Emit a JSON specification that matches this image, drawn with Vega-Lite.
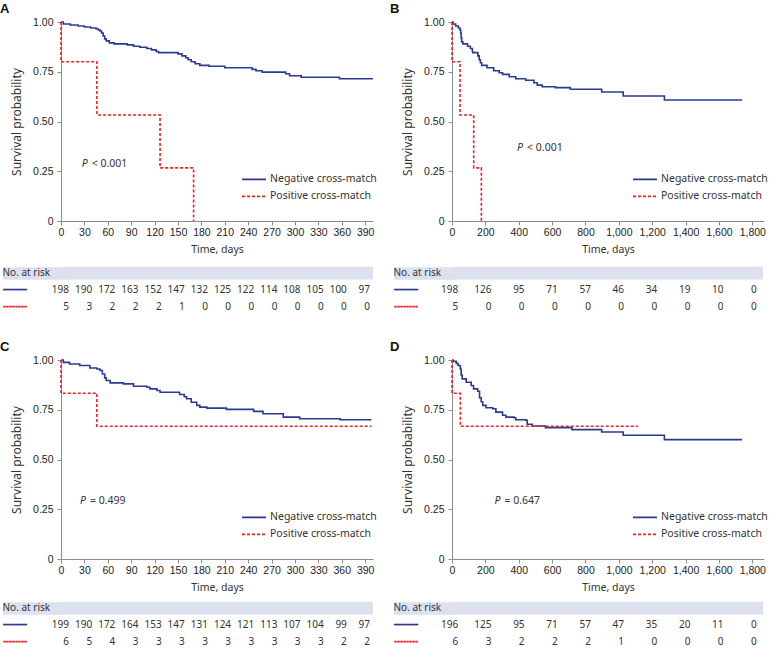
{
"$schema": "https://vega.github.io/schema/vega-lite/v6.json",
"padding": {"left": 0, "top": 3, "right": 0, "bottom": 0},
"background": "white",
"config": {
  "view": {"stroke": null},
  "font": "Noto Sans",
  "axis": {"grid": false, "domainColor": "#8c8c8c", "tickColor": "#8c8c8c", "domainWidth": 1, "tickWidth": 1, "tickSize": 4, "labelFont": "Liberation Sans", "labelFontSize": 10.5, "labelColor": "#222", "titleFont": "Noto Sans", "titleFontWeight": "normal", "titleColor": "#333", "labelOverlap": false, "labelFlush": false},
  "axisX": {"labelPadding": 2, "titlePadding": 7, "titleFontSize": 10.5},
  "axisY": {"labelPadding": 4, "titlePadding": 9, "titleFontSize": 12},
  "legend": {"orient": "none", "title": null, "symbolType": "stroke", "symbolSize": 576, "symbolStrokeWidth": 1.6, "labelFontSize": 10.5, "labelFont": "Noto Sans", "labelColor": "#333", "rowPadding": 2, "clipHeight": 14.7, "labelOffset": 3, "padding": 0},
  "title": {"anchor": "start", "frame": "group", "fontSize": 13, "fontWeight": "bold", "font": "Liberation Sans", "color": "#111", "offset": 1},
  "text": {"font": "Noto Sans", "fontSize": 10.5, "color": "#333"}
},
"datasets": {
  "km": [
    {"p":"A","g":"neg","t":0,"s":1},{"p":"A","g":"neg","t":3,"s":0.99},{"p":"A","g":"neg","t":12,"s":0.985},{"p":"A","g":"neg","t":22,"s":0.98},{"p":"A","g":"neg","t":30,"s":0.975},{"p":"A","g":"neg","t":38,"s":0.97},{"p":"A","g":"neg","t":45,"s":0.965},{"p":"A","g":"neg","t":48,"s":0.96},{"p":"A","g":"neg","t":50,"s":0.955},{"p":"A","g":"neg","t":52,"s":0.945},{"p":"A","g":"neg","t":54,"s":0.93},{"p":"A","g":"neg","t":56,"s":0.915},{"p":"A","g":"neg","t":58,"s":0.905},{"p":"A","g":"neg","t":62,"s":0.895},{"p":"A","g":"neg","t":68,"s":0.89},{"p":"A","g":"neg","t":85,"s":0.885},{"p":"A","g":"neg","t":93,"s":0.878},{"p":"A","g":"neg","t":101,"s":0.873},{"p":"A","g":"neg","t":110,"s":0.867},{"p":"A","g":"neg","t":116,"s":0.86},{"p":"A","g":"neg","t":122,"s":0.852},{"p":"A","g":"neg","t":125,"s":0.846},{"p":"A","g":"neg","t":150,"s":0.84},{"p":"A","g":"neg","t":155,"s":0.83},{"p":"A","g":"neg","t":160,"s":0.82},{"p":"A","g":"neg","t":163,"s":0.81},{"p":"A","g":"neg","t":167,"s":0.8},{"p":"A","g":"neg","t":172,"s":0.79},{"p":"A","g":"neg","t":178,"s":0.782},{"p":"A","g":"neg","t":190,"s":0.778},{"p":"A","g":"neg","t":210,"s":0.77},{"p":"A","g":"neg","t":245,"s":0.762},{"p":"A","g":"neg","t":250,"s":0.755},{"p":"A","g":"neg","t":258,"s":0.748},{"p":"A","g":"neg","t":288,"s":0.74},{"p":"A","g":"neg","t":293,"s":0.73},{"p":"A","g":"neg","t":308,"s":0.722},{"p":"A","g":"neg","t":357,"s":0.715},{"p":"A","g":"neg","t":400,"s":0.715},
    {"p":"A","g":"pos","t":0,"s":1},{"p":"A","g":"pos","t":0,"s":0.8},{"p":"A","g":"pos","t":46,"s":0.533},{"p":"A","g":"pos","t":127,"s":0.267},{"p":"A","g":"pos","t":170,"s":0},
    {"p":"B","g":"neg","t":0,"s":1},{"p":"B","g":"neg","t":6,"s":0.99},{"p":"B","g":"neg","t":22,"s":0.98},{"p":"B","g":"neg","t":38,"s":0.97},{"p":"B","g":"neg","t":48,"s":0.96},{"p":"B","g":"neg","t":52,"s":0.945},{"p":"B","g":"neg","t":55,"s":0.92},{"p":"B","g":"neg","t":58,"s":0.9},{"p":"B","g":"neg","t":65,"s":0.89},{"p":"B","g":"neg","t":93,"s":0.878},{"p":"B","g":"neg","t":110,"s":0.867},{"p":"B","g":"neg","t":122,"s":0.852},{"p":"B","g":"neg","t":125,"s":0.846},{"p":"B","g":"neg","t":155,"s":0.83},{"p":"B","g":"neg","t":163,"s":0.81},{"p":"B","g":"neg","t":170,"s":0.795},{"p":"B","g":"neg","t":178,"s":0.782},{"p":"B","g":"neg","t":210,"s":0.77},{"p":"B","g":"neg","t":250,"s":0.755},{"p":"B","g":"neg","t":283,"s":0.745},{"p":"B","g":"neg","t":303,"s":0.737},{"p":"B","g":"neg","t":343,"s":0.725},{"p":"B","g":"neg","t":382,"s":0.715},{"p":"B","g":"neg","t":442,"s":0.707},{"p":"B","g":"neg","t":491,"s":0.695},{"p":"B","g":"neg","t":511,"s":0.683},{"p":"B","g":"neg","t":541,"s":0.675},{"p":"B","g":"neg","t":620,"s":0.67},{"p":"B","g":"neg","t":709,"s":0.662},{"p":"B","g":"neg","t":897,"s":0.648},{"p":"B","g":"neg","t":1026,"s":0.628},{"p":"B","g":"neg","t":1273,"s":0.608},{"p":"B","g":"neg","t":1739,"s":0.608},
    {"p":"B","g":"pos","t":0,"s":1},{"p":"B","g":"pos","t":0,"s":0.8},{"p":"B","g":"pos","t":48,"s":0.533},{"p":"B","g":"pos","t":130,"s":0.267},{"p":"B","g":"pos","t":176,"s":0},
    {"p":"C","g":"neg","t":0,"s":1},{"p":"C","g":"neg","t":3,"s":0.988},{"p":"C","g":"neg","t":11,"s":0.98},{"p":"C","g":"neg","t":24,"s":0.972},{"p":"C","g":"neg","t":37,"s":0.96},{"p":"C","g":"neg","t":46,"s":0.955},{"p":"C","g":"neg","t":50,"s":0.947},{"p":"C","g":"neg","t":53,"s":0.93},{"p":"C","g":"neg","t":56,"s":0.91},{"p":"C","g":"neg","t":58,"s":0.897},{"p":"C","g":"neg","t":63,"s":0.885},{"p":"C","g":"neg","t":80,"s":0.88},{"p":"C","g":"neg","t":93,"s":0.868},{"p":"C","g":"neg","t":110,"s":0.863},{"p":"C","g":"neg","t":114,"s":0.855},{"p":"C","g":"neg","t":123,"s":0.847},{"p":"C","g":"neg","t":127,"s":0.838},{"p":"C","g":"neg","t":152,"s":0.827},{"p":"C","g":"neg","t":158,"s":0.815},{"p":"C","g":"neg","t":161,"s":0.805},{"p":"C","g":"neg","t":167,"s":0.788},{"p":"C","g":"neg","t":174,"s":0.772},{"p":"C","g":"neg","t":178,"s":0.763},{"p":"C","g":"neg","t":187,"s":0.758},{"p":"C","g":"neg","t":212,"s":0.752},{"p":"C","g":"neg","t":247,"s":0.742},{"p":"C","g":"neg","t":259,"s":0.73},{"p":"C","g":"neg","t":285,"s":0.713},{"p":"C","g":"neg","t":306,"s":0.705},{"p":"C","g":"neg","t":358,"s":0.7},{"p":"C","g":"neg","t":398,"s":0.7},
    {"p":"C","g":"pos","t":0,"s":1},{"p":"C","g":"pos","t":0,"s":0.833},{"p":"C","g":"pos","t":46,"s":0.667},{"p":"C","g":"pos","t":398,"s":0.667},
    {"p":"D","g":"neg","t":0,"s":1},{"p":"D","g":"neg","t":6,"s":0.993},{"p":"D","g":"neg","t":26,"s":0.983},{"p":"D","g":"neg","t":36,"s":0.972},{"p":"D","g":"neg","t":50,"s":0.955},{"p":"D","g":"neg","t":55,"s":0.925},{"p":"D","g":"neg","t":61,"s":0.905},{"p":"D","g":"neg","t":85,"s":0.888},{"p":"D","g":"neg","t":115,"s":0.872},{"p":"D","g":"neg","t":129,"s":0.855},{"p":"D","g":"neg","t":154,"s":0.843},{"p":"D","g":"neg","t":165,"s":0.81},{"p":"D","g":"neg","t":175,"s":0.79},{"p":"D","g":"neg","t":184,"s":0.772},{"p":"D","g":"neg","t":204,"s":0.76},{"p":"D","g":"neg","t":244,"s":0.755},{"p":"D","g":"neg","t":263,"s":0.738},{"p":"D","g":"neg","t":303,"s":0.722},{"p":"D","g":"neg","t":323,"s":0.713},{"p":"D","g":"neg","t":372,"s":0.71},{"p":"D","g":"neg","t":382,"s":0.7},{"p":"D","g":"neg","t":442,"s":0.697},{"p":"D","g":"neg","t":451,"s":0.677},{"p":"D","g":"neg","t":481,"s":0.668},{"p":"D","g":"neg","t":560,"s":0.66},{"p":"D","g":"neg","t":719,"s":0.65},{"p":"D","g":"neg","t":897,"s":0.638},{"p":"D","g":"neg","t":1026,"s":0.622},{"p":"D","g":"neg","t":1273,"s":0.6},{"p":"D","g":"neg","t":1739,"s":0.6},
    {"p":"D","g":"pos","t":0,"s":1},{"p":"D","g":"pos","t":0,"s":0.833},{"p":"D","g":"pos","t":50,"s":0.667},{"p":"D","g":"pos","t":1115,"s":0.667}
  ],
  "risk": [
    {"p":"A","g":"neg","t":0,"n":198},{"p":"A","g":"neg","t":30,"n":190},{"p":"A","g":"neg","t":60,"n":172},{"p":"A","g":"neg","t":90,"n":163},{"p":"A","g":"neg","t":120,"n":152},{"p":"A","g":"neg","t":150,"n":147},{"p":"A","g":"neg","t":180,"n":132},{"p":"A","g":"neg","t":210,"n":125},{"p":"A","g":"neg","t":240,"n":122},{"p":"A","g":"neg","t":270,"n":114},{"p":"A","g":"neg","t":300,"n":108},{"p":"A","g":"neg","t":330,"n":105},{"p":"A","g":"neg","t":360,"n":100},{"p":"A","g":"neg","t":390,"n":97},
    {"p":"A","g":"pos","t":0,"n":5},{"p":"A","g":"pos","t":30,"n":3},{"p":"A","g":"pos","t":60,"n":2},{"p":"A","g":"pos","t":90,"n":2},{"p":"A","g":"pos","t":120,"n":2},{"p":"A","g":"pos","t":150,"n":1},{"p":"A","g":"pos","t":180,"n":0},{"p":"A","g":"pos","t":210,"n":0},{"p":"A","g":"pos","t":240,"n":0},{"p":"A","g":"pos","t":270,"n":0},{"p":"A","g":"pos","t":300,"n":0},{"p":"A","g":"pos","t":330,"n":0},{"p":"A","g":"pos","t":360,"n":0},{"p":"A","g":"pos","t":390,"n":0},
    {"p":"B","g":"neg","t":0,"n":198},{"p":"B","g":"neg","t":200,"n":126},{"p":"B","g":"neg","t":400,"n":95},{"p":"B","g":"neg","t":600,"n":71},{"p":"B","g":"neg","t":800,"n":57},{"p":"B","g":"neg","t":1000,"n":46},{"p":"B","g":"neg","t":1200,"n":34},{"p":"B","g":"neg","t":1400,"n":19},{"p":"B","g":"neg","t":1600,"n":10},{"p":"B","g":"neg","t":1800,"n":0},
    {"p":"B","g":"pos","t":0,"n":5},{"p":"B","g":"pos","t":200,"n":0},{"p":"B","g":"pos","t":400,"n":0},{"p":"B","g":"pos","t":600,"n":0},{"p":"B","g":"pos","t":800,"n":0},{"p":"B","g":"pos","t":1000,"n":0},{"p":"B","g":"pos","t":1200,"n":0},{"p":"B","g":"pos","t":1400,"n":0},{"p":"B","g":"pos","t":1600,"n":0},{"p":"B","g":"pos","t":1800,"n":0},
    {"p":"C","g":"neg","t":0,"n":199},{"p":"C","g":"neg","t":30,"n":190},{"p":"C","g":"neg","t":60,"n":172},{"p":"C","g":"neg","t":90,"n":164},{"p":"C","g":"neg","t":120,"n":153},{"p":"C","g":"neg","t":150,"n":147},{"p":"C","g":"neg","t":180,"n":131},{"p":"C","g":"neg","t":210,"n":124},{"p":"C","g":"neg","t":240,"n":121},{"p":"C","g":"neg","t":270,"n":113},{"p":"C","g":"neg","t":300,"n":107},{"p":"C","g":"neg","t":330,"n":104},{"p":"C","g":"neg","t":360,"n":99},{"p":"C","g":"neg","t":390,"n":97},
    {"p":"C","g":"pos","t":0,"n":6},{"p":"C","g":"pos","t":30,"n":5},{"p":"C","g":"pos","t":60,"n":4},{"p":"C","g":"pos","t":90,"n":3},{"p":"C","g":"pos","t":120,"n":3},{"p":"C","g":"pos","t":150,"n":3},{"p":"C","g":"pos","t":180,"n":3},{"p":"C","g":"pos","t":210,"n":3},{"p":"C","g":"pos","t":240,"n":3},{"p":"C","g":"pos","t":270,"n":3},{"p":"C","g":"pos","t":300,"n":3},{"p":"C","g":"pos","t":330,"n":3},{"p":"C","g":"pos","t":360,"n":2},{"p":"C","g":"pos","t":390,"n":2},
    {"p":"D","g":"neg","t":0,"n":196},{"p":"D","g":"neg","t":200,"n":125},{"p":"D","g":"neg","t":400,"n":95},{"p":"D","g":"neg","t":600,"n":71},{"p":"D","g":"neg","t":800,"n":57},{"p":"D","g":"neg","t":1000,"n":47},{"p":"D","g":"neg","t":1200,"n":35},{"p":"D","g":"neg","t":1400,"n":20},{"p":"D","g":"neg","t":1600,"n":11},{"p":"D","g":"neg","t":1800,"n":0},
    {"p":"D","g":"pos","t":0,"n":6},{"p":"D","g":"pos","t":200,"n":3},{"p":"D","g":"pos","t":400,"n":2},{"p":"D","g":"pos","t":600,"n":2},{"p":"D","g":"pos","t":800,"n":2},{"p":"D","g":"pos","t":1000,"n":1},{"p":"D","g":"pos","t":1200,"n":0},{"p":"D","g":"pos","t":1400,"n":0},{"p":"D","g":"pos","t":1600,"n":0},{"p":"D","g":"pos","t":1800,"n":0}
  ]
},
"spacing": 26,
"resolve": {"scale": {"color": "independent", "strokeDash": "independent"}},
"vconcat": [
 {"spacing": 9, "resolve": {"scale": {"color": "independent", "strokeDash": "independent"}},
  "vconcat": [
   {"spacing": 13, "resolve": {"scale": {"color": "independent", "strokeDash": "independent"}},
    "hconcat": [
     {"width": 312, "height": 199, "title": {"text": "A", "dx": -61},
      "layer": [
       {"data": {"name": "km"}, "transform": [{"filter": "datum.p == 'A'"}],
        "mark": {"type": "line", "interpolate": "step-after", "strokeWidth": 1.6},
        "encoding": {
         "x": {"field": "t", "type": "quantitative", "scale": {"domain": [0, 400], "nice": false, "zero": false}, "axis": {"values": [0,30,60,90,120,150,180,210,240,270,300,330,360,390], "format": "d", "labelOverlap": false, "title": "Time, days"}},
         "y": {"field": "s", "type": "quantitative", "scale": {"domain": [0, 1], "nice": false}, "axis": {"values": [0,0.25,0.5,0.75,1], "labelExpr": "datum.value == 0 ? '0' : format(datum.value, '.2f')", "title": "Survival probability"}},
         "color": {"field": "g", "type": "nominal", "scale": {"domain": ["neg","pos"], "range": ["#2b3990","#ea2127"]}, "legend": {"legendX": 180, "legendY": 150, "labelExpr": "datum.value == 'neg' ? 'Negative cross-match' : 'Positive cross-match'"}},
         "strokeDash": {"field": "g", "type": "nominal", "scale": {"domain": ["neg","pos"], "range": [[1,0],[3,2]]}, "legend": {"legendX": 180, "legendY": 150, "labelExpr": "datum.value == 'neg' ? 'Negative cross-match' : 'Positive cross-match'"}}
        }},
       {"data": {"values": [{}]}, "mark": {"type": "text", "align": "left", "fontStyle": "italic"},
        "encoding": {"x": {"datum": 26.5, "type": "quantitative", "axis": {"values": [0,30,60,90,120,150,180,210,240,270,300,330,360,390], "format": "d", "labelOverlap": false, "title": "Time, days"}}, "y": {"datum": 0.285, "type": "quantitative", "axis": {"values": [0,0.25,0.5,0.75,1], "labelExpr": "datum.value == 0 ? '0' : format(datum.value, '.2f')", "title": "Survival probability"}}, "text": {"value": "P"}}},
       {"data": {"values": [{}]}, "mark": {"type": "text", "align": "left", "dx": 10},
        "encoding": {"x": {"datum": 26.5, "type": "quantitative", "axis": {"values": [0,30,60,90,120,150,180,210,240,270,300,330,360,390], "format": "d", "labelOverlap": false, "title": "Time, days"}}, "y": {"datum": 0.285, "type": "quantitative", "axis": {"values": [0,0.25,0.5,0.75,1], "labelExpr": "datum.value == 0 ? '0' : format(datum.value, '.2f')", "title": "Survival probability"}}, "text": {"value": "< 0.001"}}}
      ]},
     {"width": 312, "height": 199, "title": {"text": "B", "dx": -62},
      "layer": [
       {"data": {"name": "km"}, "transform": [{"filter": "datum.p == 'B'"}],
        "mark": {"type": "line", "interpolate": "step-after", "strokeWidth": 1.6},
        "encoding": {
         "x": {"field": "t", "type": "quantitative", "scale": {"domain": [0, 1870], "nice": false, "zero": false}, "axis": {"values": [0,200,400,600,800,1000,1200,1400,1600,1800], "format": ",d", "labelOverlap": false, "title": "Time, days"}},
         "y": {"field": "s", "type": "quantitative", "scale": {"domain": [0, 1], "nice": false}, "axis": {"values": [0,0.25,0.5,0.75,1], "labelExpr": "datum.value == 0 ? '0' : format(datum.value, '.2f')", "title": "Survival probability"}},
         "color": {"field": "g", "type": "nominal", "scale": {"domain": ["neg","pos"], "range": ["#2b3990","#ea2127"]}, "legend": {"legendX": 180, "legendY": 150, "labelExpr": "datum.value == 'neg' ? 'Negative cross-match' : 'Positive cross-match'"}},
         "strokeDash": {"field": "g", "type": "nominal", "scale": {"domain": ["neg","pos"], "range": [[1,0],[3,2]]}, "legend": {"legendX": 180, "legendY": 150, "labelExpr": "datum.value == 'neg' ? 'Negative cross-match' : 'Positive cross-match'"}}
        }},
       {"data": {"values": [{}]}, "mark": {"type": "text", "align": "left", "fontStyle": "italic"},
        "encoding": {"x": {"datum": 390, "type": "quantitative", "axis": {"values": [0,200,400,600,800,1000,1200,1400,1600,1800], "format": ",d", "labelOverlap": false, "title": "Time, days"}}, "y": {"datum": 0.367, "type": "quantitative", "axis": {"values": [0,0.25,0.5,0.75,1], "labelExpr": "datum.value == 0 ? '0' : format(datum.value, '.2f')", "title": "Survival probability"}}, "text": {"value": "P"}}},
       {"data": {"values": [{}]}, "mark": {"type": "text", "align": "left", "dx": 10},
        "encoding": {"x": {"datum": 390, "type": "quantitative", "axis": {"values": [0,200,400,600,800,1000,1200,1400,1600,1800], "format": ",d", "labelOverlap": false, "title": "Time, days"}}, "y": {"datum": 0.367, "type": "quantitative", "axis": {"values": [0,0.25,0.5,0.75,1], "labelExpr": "datum.value == 0 ? '0' : format(datum.value, '.2f')", "title": "Survival probability"}}, "text": {"value": "< 0.001"}}}
      ]}
    ]},
   {"spacing": 18, "resolve": {"scale": {"color": "independent", "strokeDash": "independent"}},
    "hconcat": [
     {"width": 312, "height": 50,
      "layer": [
       {"data": {"values": [{"g": "hdr"}]}, "mark": {"type": "rect", "color": "#dde0ef"},
        "encoding": {"y": {"field": "g", "type": "nominal", "scale": {"domain": ["hdr","neg","pos"], "paddingInner": 0.25, "paddingOuter": 0.1},
          "axis": {"title": null, "domain": false, "ticks": true, "tickSize": 52, "tickWidth": {"condition": {"test": "datum.value == 'hdr'", "value": 12.7}, "value": 0}, "tickCap": "square", "tickBand": "center", "tickColor": {"condition": {"test": "datum.value == 'hdr'", "value": "#dde0ef"}, "value": "transparent"}, "labelAlign": "left", "labelPadding": 7, "labelFontSize": 10, "labelFont": "Noto Sans", "zindex": 1,
            "labelExpr": "datum.value == 'hdr' ? 'No. at risk' : datum.value == 'neg' ? '━━━━' : '╍╍╍╍'",
            "labelColor": {"condition": [{"test": "datum.value == 'neg'", "value": "#2b3990"}, {"test": "datum.value == 'pos'", "value": "#ea2127"}], "value": "#333"}}}}},
       {"data": {"name": "risk"}, "transform": [{"filter": "datum.p == 'A'"}],
        "mark": {"type": "text", "align": "right", "fontSize": 10},
        "encoding": {"x": {"field": "t", "type": "quantitative", "scale": {"domain": [-10.4, 393.9], "nice": false, "zero": false}, "axis": null},
          "y": {"field": "g", "type": "nominal"}, "text": {"field": "n", "type": "quantitative"}}}
      ]},
     {"width": 312, "height": 50,
      "layer": [
       {"data": {"values": [{"g": "hdr"}]}, "mark": {"type": "rect", "color": "#dde0ef"},
        "encoding": {"y": {"field": "g", "type": "nominal", "scale": {"domain": ["hdr","neg","pos"], "paddingInner": 0.25, "paddingOuter": 0.1},
          "axis": {"title": null, "domain": false, "ticks": true, "tickSize": 51, "tickWidth": {"condition": {"test": "datum.value == 'hdr'", "value": 12.7}, "value": 0}, "tickCap": "square", "tickBand": "center", "tickColor": {"condition": {"test": "datum.value == 'hdr'", "value": "#dde0ef"}, "value": "transparent"}, "labelAlign": "left", "labelPadding": 7, "labelFontSize": 10, "labelFont": "Noto Sans", "zindex": 1,
            "labelExpr": "datum.value == 'hdr' ? 'No. at risk' : datum.value == 'neg' ? '━━━━' : '╍╍╍╍'",
            "labelColor": {"condition": [{"test": "datum.value == 'neg'", "value": "#2b3990"}, {"test": "datum.value == 'pos'", "value": "#ea2127"}], "value": "#333"}}}}},
       {"data": {"name": "risk"}, "transform": [{"filter": "datum.p == 'B'"}],
        "mark": {"type": "text", "align": "right", "fontSize": 10},
        "encoding": {"x": {"field": "t", "type": "quantitative", "scale": {"domain": [-44, 1838], "nice": false, "zero": false}, "axis": null},
          "y": {"field": "g", "type": "nominal"}, "text": {"field": "n", "type": "quantitative"}}}
      ]}
    ]}
  ]},
 {"spacing": 6, "resolve": {"scale": {"color": "independent", "strokeDash": "independent"}},
  "vconcat": [
   {"spacing": 13, "resolve": {"scale": {"color": "independent", "strokeDash": "independent"}},
    "hconcat": [
     {"width": 312, "height": 199, "title": {"text": "C", "dx": -61},
      "layer": [
       {"data": {"name": "km"}, "transform": [{"filter": "datum.p == 'C'"}],
        "mark": {"type": "line", "interpolate": "step-after", "strokeWidth": 1.6},
        "encoding": {
         "x": {"field": "t", "type": "quantitative", "scale": {"domain": [0, 400], "nice": false, "zero": false}, "axis": {"values": [0,30,60,90,120,150,180,210,240,270,300,330,360,390], "format": "d", "labelOverlap": false, "title": "Time, days"}},
         "y": {"field": "s", "type": "quantitative", "scale": {"domain": [0, 1], "nice": false}, "axis": {"values": [0,0.25,0.5,0.75,1], "labelExpr": "datum.value == 0 ? '0' : format(datum.value, '.2f')", "title": "Survival probability"}},
         "color": {"field": "g", "type": "nominal", "scale": {"domain": ["neg","pos"], "range": ["#2b3990","#ea2127"]}, "legend": {"legendX": 180, "legendY": 150, "labelExpr": "datum.value == 'neg' ? 'Negative cross-match' : 'Positive cross-match'"}},
         "strokeDash": {"field": "g", "type": "nominal", "scale": {"domain": ["neg","pos"], "range": [[1,0],[3,2]]}, "legend": {"legendX": 180, "legendY": 150, "labelExpr": "datum.value == 'neg' ? 'Negative cross-match' : 'Positive cross-match'"}}
        }},
       {"data": {"values": [{}]}, "mark": {"type": "text", "align": "left", "fontStyle": "italic"},
        "encoding": {"x": {"datum": 24.4, "type": "quantitative", "axis": {"values": [0,30,60,90,120,150,180,210,240,270,300,330,360,390], "format": "d", "labelOverlap": false, "title": "Time, days"}}, "y": {"datum": 0.29, "type": "quantitative", "axis": {"values": [0,0.25,0.5,0.75,1], "labelExpr": "datum.value == 0 ? '0' : format(datum.value, '.2f')", "title": "Survival probability"}}, "text": {"value": "P"}}},
       {"data": {"values": [{}]}, "mark": {"type": "text", "align": "left", "dx": 10},
        "encoding": {"x": {"datum": 24.4, "type": "quantitative", "axis": {"values": [0,30,60,90,120,150,180,210,240,270,300,330,360,390], "format": "d", "labelOverlap": false, "title": "Time, days"}}, "y": {"datum": 0.29, "type": "quantitative", "axis": {"values": [0,0.25,0.5,0.75,1], "labelExpr": "datum.value == 0 ? '0' : format(datum.value, '.2f')", "title": "Survival probability"}}, "text": {"value": "= 0.499"}}}
      ]},
     {"width": 312, "height": 199, "title": {"text": "D", "dx": -62},
      "layer": [
       {"data": {"name": "km"}, "transform": [{"filter": "datum.p == 'D'"}],
        "mark": {"type": "line", "interpolate": "step-after", "strokeWidth": 1.6},
        "encoding": {
         "x": {"field": "t", "type": "quantitative", "scale": {"domain": [0, 1870], "nice": false, "zero": false}, "axis": {"values": [0,200,400,600,800,1000,1200,1400,1600,1800], "format": ",d", "labelOverlap": false, "title": "Time, days"}},
         "y": {"field": "s", "type": "quantitative", "scale": {"domain": [0, 1], "nice": false}, "axis": {"values": [0,0.25,0.5,0.75,1], "labelExpr": "datum.value == 0 ? '0' : format(datum.value, '.2f')", "title": "Survival probability"}},
         "color": {"field": "g", "type": "nominal", "scale": {"domain": ["neg","pos"], "range": ["#2b3990","#ea2127"]}, "legend": {"legendX": 180, "legendY": 150, "labelExpr": "datum.value == 'neg' ? 'Negative cross-match' : 'Positive cross-match'"}},
         "strokeDash": {"field": "g", "type": "nominal", "scale": {"domain": ["neg","pos"], "range": [[1,0],[3,2]]}, "legend": {"legendX": 180, "legendY": 150, "labelExpr": "datum.value == 'neg' ? 'Negative cross-match' : 'Positive cross-match'"}}
        }},
       {"data": {"values": [{}]}, "mark": {"type": "text", "align": "left", "fontStyle": "italic"},
        "encoding": {"x": {"datum": 255, "type": "quantitative", "axis": {"values": [0,200,400,600,800,1000,1200,1400,1600,1800], "format": ",d", "labelOverlap": false, "title": "Time, days"}}, "y": {"datum": 0.29, "type": "quantitative", "axis": {"values": [0,0.25,0.5,0.75,1], "labelExpr": "datum.value == 0 ? '0' : format(datum.value, '.2f')", "title": "Survival probability"}}, "text": {"value": "P"}}},
       {"data": {"values": [{}]}, "mark": {"type": "text", "align": "left", "dx": 10},
        "encoding": {"x": {"datum": 255, "type": "quantitative", "axis": {"values": [0,200,400,600,800,1000,1200,1400,1600,1800], "format": ",d", "labelOverlap": false, "title": "Time, days"}}, "y": {"datum": 0.29, "type": "quantitative", "axis": {"values": [0,0.25,0.5,0.75,1], "labelExpr": "datum.value == 0 ? '0' : format(datum.value, '.2f')", "title": "Survival probability"}}, "text": {"value": "= 0.647"}}}
      ]}
    ]},
   {"spacing": 18, "resolve": {"scale": {"color": "independent", "strokeDash": "independent"}},
    "hconcat": [
     {"width": 312, "height": 50,
      "layer": [
       {"data": {"values": [{"g": "hdr"}]}, "mark": {"type": "rect", "color": "#dde0ef"},
        "encoding": {"y": {"field": "g", "type": "nominal", "scale": {"domain": ["hdr","neg","pos"], "paddingInner": 0.25, "paddingOuter": 0.1},
          "axis": {"title": null, "domain": false, "ticks": true, "tickSize": 52, "tickWidth": {"condition": {"test": "datum.value == 'hdr'", "value": 12.7}, "value": 0}, "tickCap": "square", "tickBand": "center", "tickColor": {"condition": {"test": "datum.value == 'hdr'", "value": "#dde0ef"}, "value": "transparent"}, "labelAlign": "left", "labelPadding": 7, "labelFontSize": 10, "labelFont": "Noto Sans", "zindex": 1,
            "labelExpr": "datum.value == 'hdr' ? 'No. at risk' : datum.value == 'neg' ? '━━━━' : '╍╍╍╍'",
            "labelColor": {"condition": [{"test": "datum.value == 'neg'", "value": "#2b3990"}, {"test": "datum.value == 'pos'", "value": "#ea2127"}], "value": "#333"}}}}},
       {"data": {"name": "risk"}, "transform": [{"filter": "datum.p == 'C'"}],
        "mark": {"type": "text", "align": "right", "fontSize": 10},
        "encoding": {"x": {"field": "t", "type": "quantitative", "scale": {"domain": [-10.4, 393.9], "nice": false, "zero": false}, "axis": null},
          "y": {"field": "g", "type": "nominal"}, "text": {"field": "n", "type": "quantitative"}}}
      ]},
     {"width": 312, "height": 50,
      "layer": [
       {"data": {"values": [{"g": "hdr"}]}, "mark": {"type": "rect", "color": "#dde0ef"},
        "encoding": {"y": {"field": "g", "type": "nominal", "scale": {"domain": ["hdr","neg","pos"], "paddingInner": 0.25, "paddingOuter": 0.1},
          "axis": {"title": null, "domain": false, "ticks": true, "tickSize": 51, "tickWidth": {"condition": {"test": "datum.value == 'hdr'", "value": 12.7}, "value": 0}, "tickCap": "square", "tickBand": "center", "tickColor": {"condition": {"test": "datum.value == 'hdr'", "value": "#dde0ef"}, "value": "transparent"}, "labelAlign": "left", "labelPadding": 7, "labelFontSize": 10, "labelFont": "Noto Sans", "zindex": 1,
            "labelExpr": "datum.value == 'hdr' ? 'No. at risk' : datum.value == 'neg' ? '━━━━' : '╍╍╍╍'",
            "labelColor": {"condition": [{"test": "datum.value == 'neg'", "value": "#2b3990"}, {"test": "datum.value == 'pos'", "value": "#ea2127"}], "value": "#333"}}}}},
       {"data": {"name": "risk"}, "transform": [{"filter": "datum.p == 'D'"}],
        "mark": {"type": "text", "align": "right", "fontSize": 10},
        "encoding": {"x": {"field": "t", "type": "quantitative", "scale": {"domain": [-44, 1838], "nice": false, "zero": false}, "axis": null},
          "y": {"field": "g", "type": "nominal"}, "text": {"field": "n", "type": "quantitative"}}}
      ]}
    ]}
  ]}
]
}
